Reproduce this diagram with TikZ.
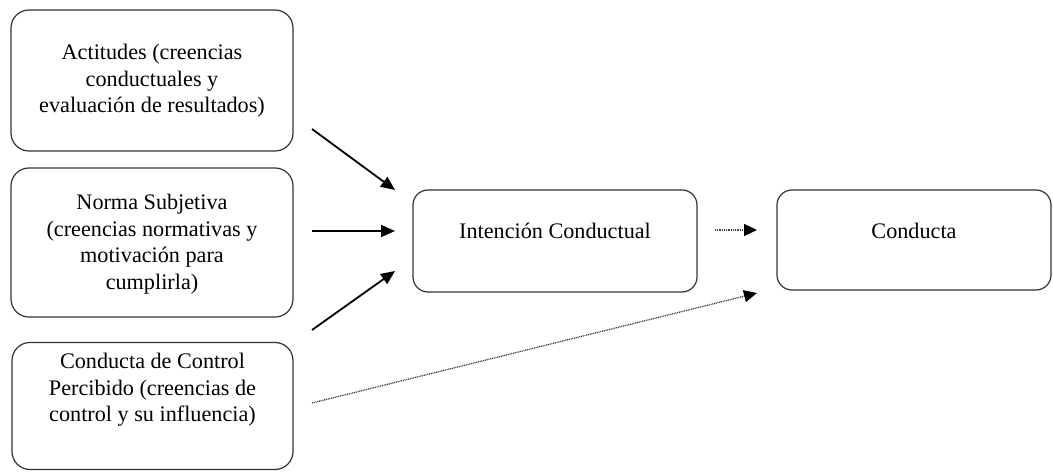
\documentclass[tikz,border=0pt]{standalone}
\usepackage{fontspec}
\setmainfont{Liberation Serif}
\usetikzlibrary{arrows.meta}
\begin{document}
\begin{tikzpicture}[x=1pt,y=-1pt,
  box/.style={draw=black!80, line width=1.2pt, rounded corners=#1, inner sep=0pt},
  boxtext/.style={anchor=north, align=center, inner sep=0pt,
    font=\fontsize{22.2}{26.6}\selectfont},
  solidarrow/.style={line width=1.8pt, -{Triangle[length=14pt,width=12pt]}},
  dotarrow/.style={line width=1.3pt, black!75, dash pattern=on 1pt off 0.8pt,
    -{Triangle[length=13pt,width=12pt,color=black]}}
]
\useasboundingbox (0,0) rectangle (1053,473);

% left column: the three determinants
\node[box=18pt, minimum width=282pt, minimum height=141pt] (att) at (152,80.5) {};
\node[boxtext] (attlabel) at (152,44) {Actitudes (creencias\\conductuales y\\evaluación de resultados)};

\node[box=18pt, minimum width=282pt, minimum height=149pt] (norm) at (152,242.5) {};
\node[boxtext] (normlabel) at (152,194) {Norma Subjetiva\\(creencias normativas y\\motivación para\\cumplirla)};

\node[box=18pt, minimum width=281pt, minimum height=127pt] (ctrl) at (152.5,406) {};
\node[boxtext] (ctrllabel) at (152.5,353) {Conducta de Control\\Percibido (creencias de\\control y su influencia)};

% intention and behaviour
\node[box=15pt, minimum width=284pt, minimum height=102pt] (intent) at (555,241) {};
\node[boxtext] (intentlabel) at (555,223) {Intención Conductual};

\node[box=15pt, minimum width=274pt, minimum height=100pt] (behav) at (914,240) {};
\node[boxtext] (behavlabel) at (914,223) {Conducta};

% free-standing arrow ends between the columns
\coordinate (a1s) at (312,129);  \coordinate (a1e) at (395,190);
\coordinate (a2s) at (312,231);  \coordinate (a2e) at (395,231);
\coordinate (a3s) at (312,330);  \coordinate (a3e) at (395,271);
\coordinate (d1s) at (715,230);  \coordinate (d1e) at (757,230);
\coordinate (d2s) at (312,403);  \coordinate (d2e) at (757,293);

\draw[solidarrow] (a1s) -- (a1e);
\draw[solidarrow] (a2s) -- (a2e);
\draw[solidarrow] (a3s) -- (a3e);
\draw[dotarrow] (d1s) -- (d1e);
\draw[dotarrow] (d2s) -- (d2e);
\end{tikzpicture}
\end{document}
